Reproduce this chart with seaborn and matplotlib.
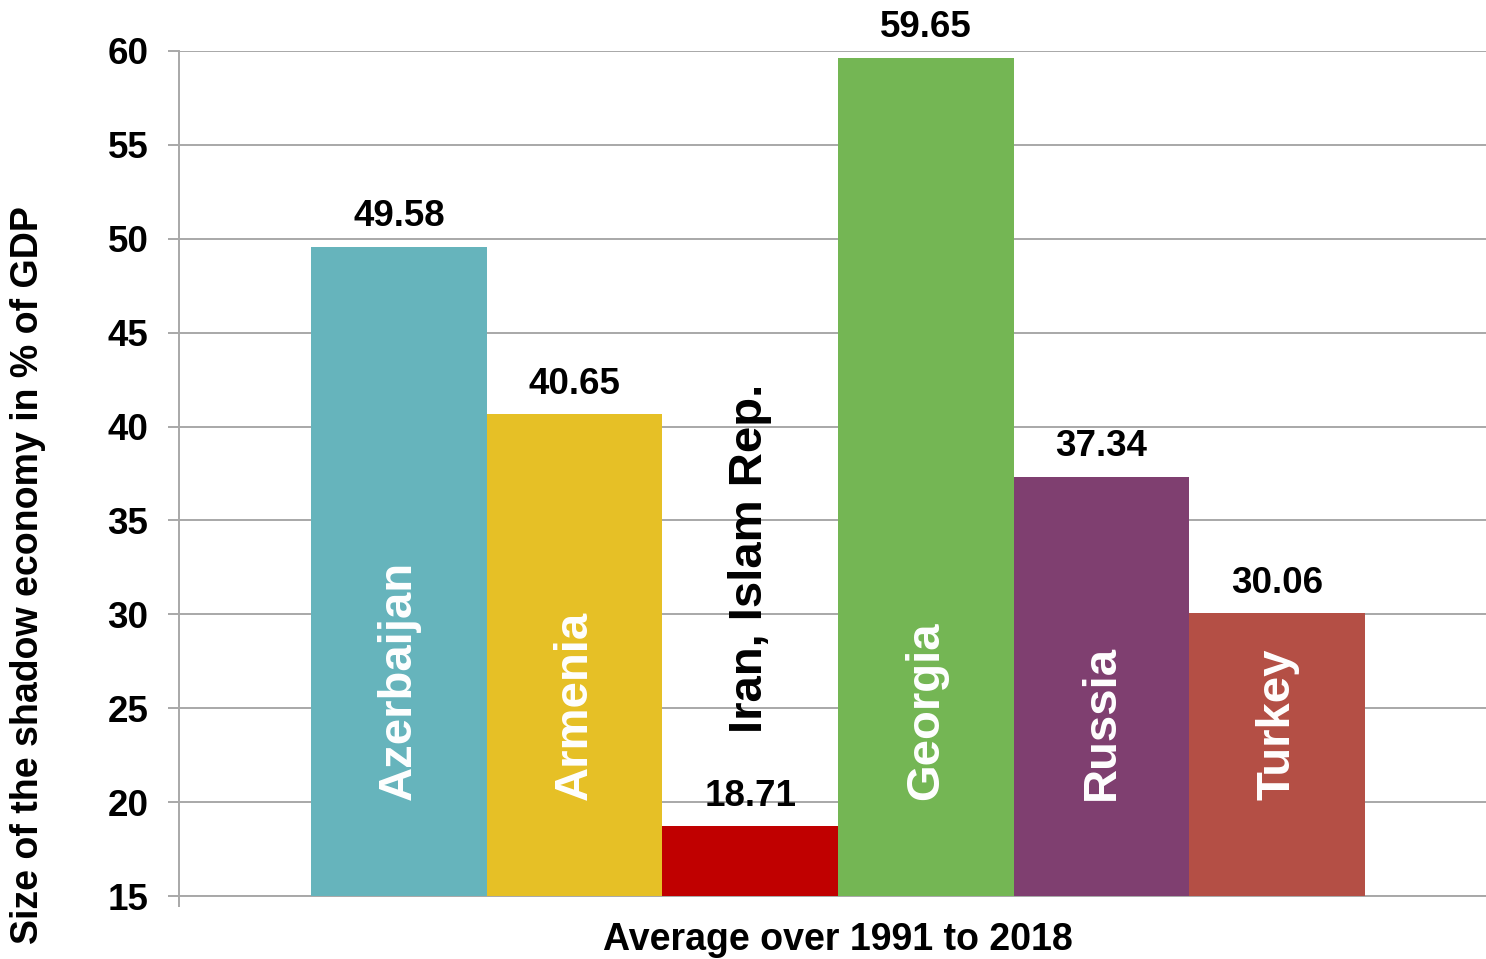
import matplotlib.pyplot as plt
import pandas as pd
import seaborn as sns

countries = ["Azerbaijan", "Armenia", "Iran, Islam Rep.", "Georgia", "Russia", "Turkey"]
values = [49.58, 40.65, 18.71, 59.65, 37.34, 30.06]
colors = ["#66B4BC", "#E6C026", "#C00000", "#74B654", "#7F3F70", "#B44F45"]
name_colors = ["white", "white", "black", "white", "white", "white"]
yticks = [15, 20, 25, 30, 35, 40, 45, 50, 55, 60]

sns.set_theme(style="white")
plt.rcParams["font.family"] = ["Liberation Sans", "DejaVu Sans"]
plt.rcParams["font.weight"] = "bold"
plt.rcParams["text.color"] = "black"
plt.rcParams["ytick.labelcolor"] = "black"

df = pd.DataFrame({"country": countries, "value": values})

fig = plt.figure(figsize=(14.86, 9.59), dpi=100)
ax = fig.add_axes([179 / 1486, 1 - 896 / 959, 1 - 179 / 1486, (896 - 51) / 959])

sns.barplot(
    data=df, x="country", y="value", hue="country", palette=colors,
    order=countries, hue_order=countries, width=1.0, saturation=1,
    linewidth=0, legend=False, ax=ax, zorder=3,
)

ax.set_ylim(15, 60)
ax.set_xlim(-1.252, 6.189)
ax.set_yticks(yticks)
ax.set_yticklabels([str(t) for t in yticks], fontsize=26.5, fontweight="bold", color="black")
ax.set_xticks([-1.252])
ax.set_xticklabels([""])
ax.set_xlabel("")
ax.set_ylabel("")
ax.yaxis.grid(True, color="#A8A8A8", linewidth=1.4, zorder=0)
ax.tick_params(axis="y", which="major", direction="out", length=8, width=1.4,
               color="#A8A8A8", pad=14, left=True, labelcolor="black")
ax.tick_params(axis="x", which="major", direction="out", length=8, width=1.4,
               color="#A8A8A8", bottom=True)

for side in ["top", "right"]:
    ax.spines[side].set_visible(False)
for side in ["left", "bottom"]:
    ax.spines[side].set_color("#A8A8A8")
    ax.spines[side].set_linewidth(1.4)

# value labels above bars
for i, v in enumerate(values):
    ax.annotate(f"{v:.2f}", (i, v), xytext=(0, 9), textcoords="offset points",
                ha="center", va="bottom", fontsize=26.5, fontweight="bold",
                color="black", zorder=5)

# country names inside / above bars
name_y = [20.1, 20.1, 23.7, 20.1, 20.1, 20.1]
for i, name in enumerate(countries):
    ax.text(i, name_y[i], name, rotation=90, rotation_mode="anchor",
            ha="left", va="center", fontsize=34, fontweight="bold",
            color=name_colors[i], zorder=5)

fig.text(28 / 1486, 1 - 575 / 959, "Size of the shadow economy in % of GDP",
         rotation=90, ha="center", va="center", fontsize=27, fontweight="bold",
         color="black")
fig.text(838 / 1486, 1 - 940 / 959, "Average over 1991 to 2018",
         ha="center", va="center", fontsize=27, fontweight="bold", color="black")

fig.savefig("out.png", dpi=100)
